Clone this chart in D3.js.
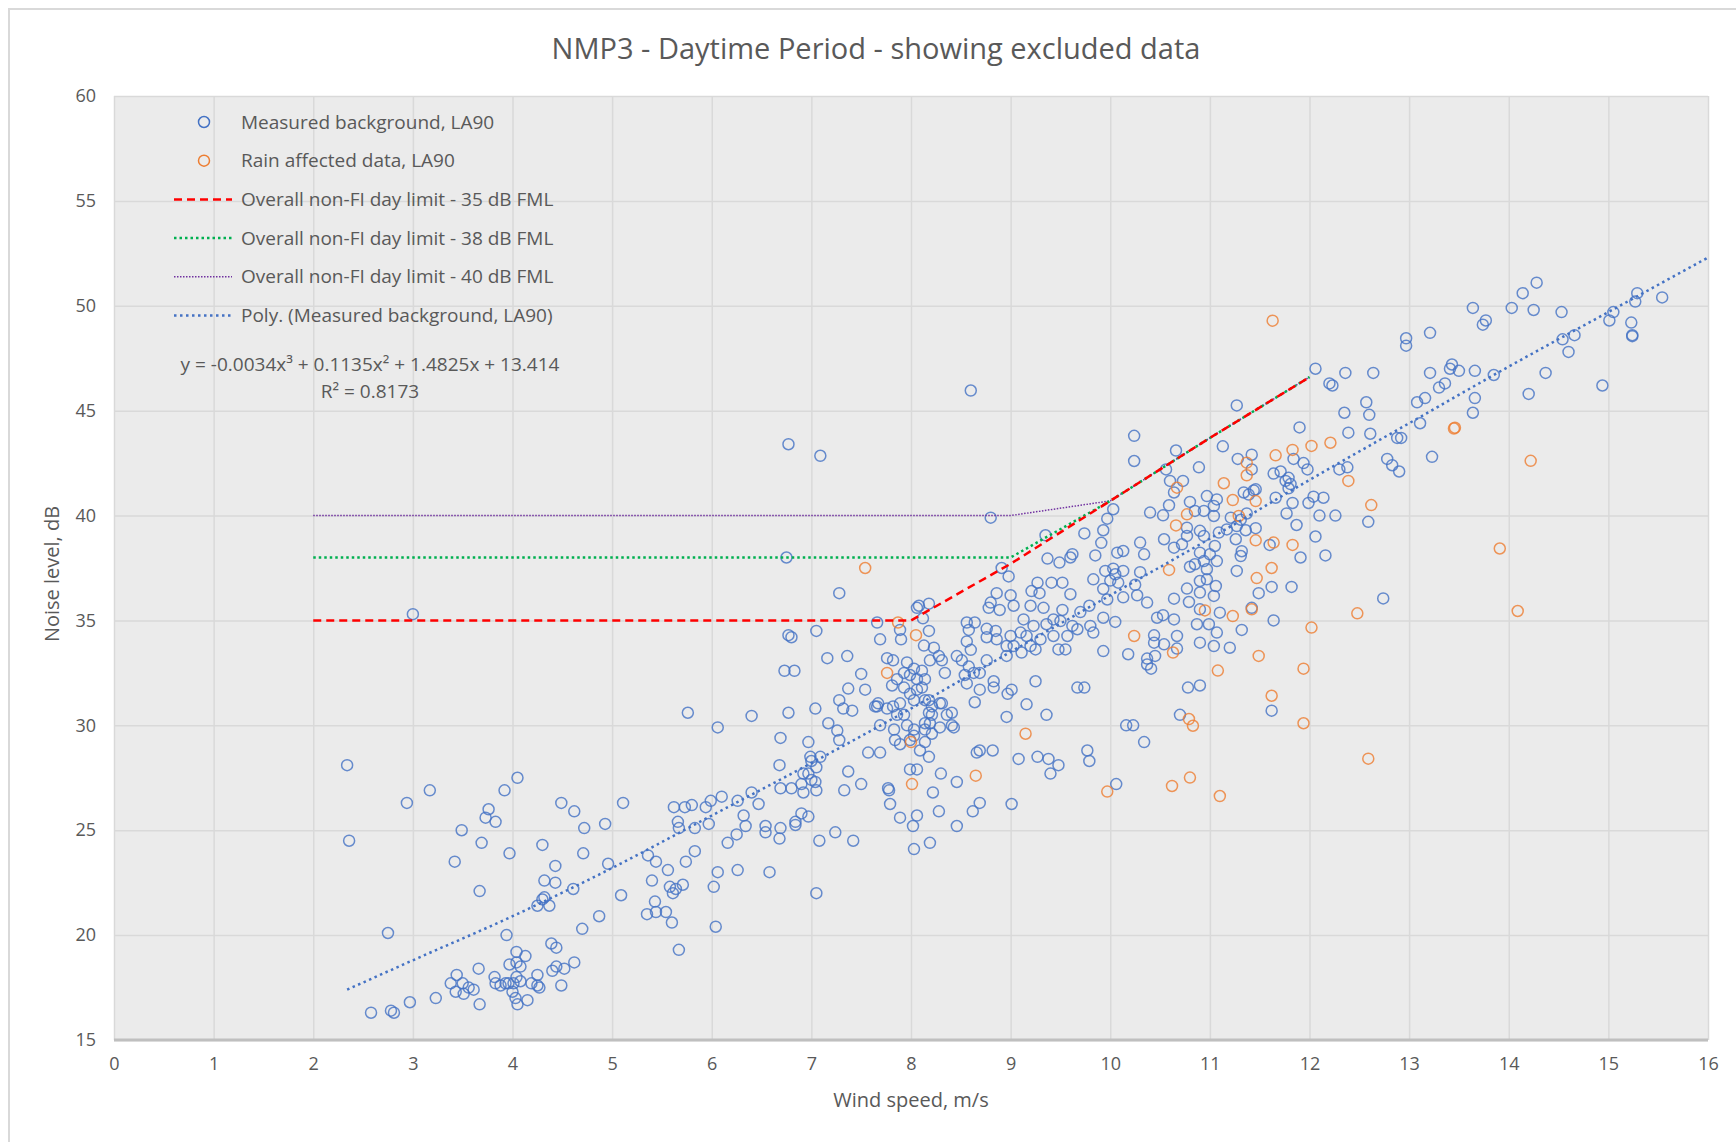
<!DOCTYPE html>
<html>
<head>
<meta charset="utf-8">
<script src="https://cdn.jsdelivr.net/npm/d3@7"></script>
<style>
  body { margin: 0; background: #fff; }
  svg text { font-family: "Open Sans", sans-serif; fill: #595959; }
</style>
</head>
<body>
<div id="chart"></div>
<script>
// measured background LA90, [wind speed m/s, dB]
const measured = [
  [3.0,35.3],[5.76,30.6],[6.06,29.9],[2.34,28.1],[4.05,27.5],[3.92,26.9],[3.17,26.9],[2.94,26.3],[3.76,26.0],[3.73,25.6],[3.83,25.4],[3.49,25.0],[2.36,24.5],[3.69,24.4],[3.97,23.9],[3.42,23.5],[3.67,22.1],
  [4.49,26.3],[4.62,25.9],[4.72,25.1],[4.93,25.3],[5.11,26.3],[4.30,24.3],[4.71,23.9],[4.43,23.3],[4.32,22.6],[4.43,22.5],[4.61,22.2],[4.96,23.4],[5.09,21.9],[4.87,20.9],[4.70,20.3],[4.32,21.8],[4.30,21.7],[4.25,21.4],[4.37,21.4],[3.94,20.0],[2.75,20.1],
  [5.36,23.8],[5.44,23.5],[5.40,22.6],[5.56,23.1],[5.58,22.3],[5.64,22.2],[5.71,22.4],[5.61,22.0],[5.43,21.6],[5.35,21.0],[5.44,21.1],[5.54,21.1],[5.60,20.6],[5.67,19.3],
  [5.62,26.1],[5.73,26.1],[5.80,26.2],[5.66,25.4],[5.67,25.1],[5.83,25.1],[5.97,25.3],[5.94,26.1],[5.99,26.4],[6.10,26.6],[5.83,24.0],[5.74,23.5],[6.06,23.0],[6.02,22.3],[6.04,20.4],[6.26,23.1],[6.16,24.4],[6.25,24.8],[6.26,26.4],
  [2.58,16.3],[2.78,16.4],[2.81,16.3],[2.97,16.8],[3.23,17.0],[3.44,18.1],[3.38,17.7],[3.50,17.7],[3.43,17.3],[3.51,17.2],[3.56,17.5],[3.61,17.4],[3.67,16.7],[3.66,18.4],
  [3.82,18.0],[3.83,17.7],[3.88,17.6],[3.93,17.7],[3.96,17.7],[4.01,17.7],[4.04,18.0],[4.08,17.8],[3.97,18.6],[4.04,18.7],[4.08,18.5],[4.04,19.2],[4.13,19.0],[4.0,17.3],[4.03,17.0],[4.05,16.7],[4.15,16.9],[4.19,17.7],[4.25,18.1],[4.25,17.6],[4.27,17.5],[4.39,19.6],[4.44,19.4],[4.40,18.3],[4.44,18.5],[4.52,18.4],[4.62,18.7],[4.49,17.6],
  [8.80,39.9],[6.77,43.4],[7.09,42.85],[8.6,45.96],
  [6.75,38.0],[7.28,36.3],[8.86,36.3],[8.80,35.85],[8.78,35.6],[8.89,35.5],[8.08,35.7],[8.18,35.8],[8.12,35.1],[8.06,35.6],[7.66,34.9],[7.89,34.55],[7.90,34.1],[8.18,34.5],[8.13,33.8],[7.69,34.1],[6.77,34.3],[6.80,34.2],[7.05,34.5],[7.16,33.2],[7.36,33.3],[6.73,32.6],[6.83,32.6],
  [7.76,33.2],[7.82,33.1],[7.96,33.0],[8.03,32.7],[7.99,32.4],[7.93,32.5],[8.11,32.6],[8.14,32.2],[8.06,32.2],[7.86,32.2],[7.81,31.9],
  [7.50,32.45],[7.54,31.7],[7.37,31.75],[8.23,33.7],[8.28,33.3],[8.19,33.1],[8.31,33.1],[8.34,32.5],
  [7.93,31.8],[7.99,31.5],[8.06,31.7],[8.11,31.8],[8.03,31.2],[8.14,31.2],[8.21,30.9],[8.31,31.05],[8.18,31.2],
  [8.46,33.3],[8.51,33.1],[8.58,32.8],[8.60,33.6],[8.56,34.0],[8.64,34.9],[8.56,34.9],[8.58,34.55],[8.76,34.6],[8.76,34.2],[8.85,34.5],[8.86,34.1],[8.76,33.1],[8.69,32.5],[8.63,32.5],[8.56,32.0],[8.54,32.4],[8.69,31.7],[8.83,32.1],[8.83,31.8],
  [8.64,31.1],[8.69,28.8],[8.66,28.7],[8.82,28.8],[8.46,27.3],[8.30,27.7],[8.22,26.8],[8.28,25.9],[8.46,25.2],[8.62,25.9],[8.69,26.3],
  [8.36,30.5],[8.41,30.0],[8.29,29.9],[8.43,29.9],[8.21,29.6],[8.14,29.2],[8.09,28.8],[8.18,28.5],[8.14,29.8],[8.03,29.8],[7.99,29.3],[7.96,30.0],[7.93,30.5],[7.86,30.5],[7.89,31.05],[7.82,30.9],[7.76,30.8],[7.67,31.05],[7.66,30.9],[7.69,30.0],[7.83,29.8],[7.84,29.3],[7.89,29.1],[8.03,29.5],
  [7.99,27.9],[8.06,27.9],[8.02,25.2],[8.06,25.7],[8.03,24.1],[8.19,24.4],
  [7.57,28.7],[7.69,28.7],[7.50,27.2],[7.33,26.9],[7.37,27.8],[7.28,29.3],[7.26,29.75],[7.17,30.1],[7.28,31.2],[7.32,30.8],[7.41,30.7],[7.64,30.9],[7.79,26.25],[7.77,27.0],[7.78,26.9],[7.89,25.6],
  [7.04,30.8],[6.97,29.2],[6.99,28.5],[7.0,28.3],[7.09,28.5],[7.05,28.0],[6.97,27.7],[6.92,27.7],[7.0,27.4],[7.04,27.3],[6.90,27.2],[7.05,26.9],[6.92,26.8],[6.69,29.4],[6.68,28.1],[6.69,27.0],[6.80,27.0],[6.40,30.45],[6.77,30.6],
  [6.47,26.25],[6.40,26.8],[6.32,25.7],[6.34,25.2],
  [6.54,25.2],[6.54,24.9],[6.69,25.1],[6.68,24.6],[6.84,25.4],[6.84,25.25],[6.90,25.8],[6.97,25.65],[7.08,24.5],[7.24,24.9],[7.42,24.5],[6.58,23.0],[7.05,22.0],
  [8.41,30.6],[8.29,31.05],[8.18,30.6],[8.21,30.5],[8.19,30.1],[8.14,30.1],
  [8.91,37.5],[8.98,37.1],[9.0,36.2],[9.03,35.7],
  [11.27,45.25],[10.24,43.8],[10.24,42.6],[10.66,43.1],[11.13,43.3],[11.28,42.7],[10.89,42.3],[10.56,42.2],[10.60,41.65],[10.73,41.65],[10.64,41.1],
  [10.03,40.3],[9.97,39.85],[9.93,39.3],[9.91,38.7],[9.74,39.15],[9.85,38.1],[9.35,39.06],[9.37,37.95],[9.49,37.76],[9.60,38.0],[9.62,38.16],
  [9.27,36.8],[9.21,36.4],[9.29,36.3],[9.41,36.8],[9.52,36.8],[9.60,36.25],[9.20,35.7],[9.33,35.6],[9.52,35.5],[9.70,35.4],[9.79,35.7],[9.83,36.96],[9.95,37.36],[10.03,37.47],[10.13,37.36],[10.05,37.2],[10.08,36.8],[10.0,36.9],[9.93,36.5],[9.97,36.0],[10.13,36.1],[10.27,36.2],[10.25,36.7],[10.30,37.3],[10.37,35.85],
  [9.80,34.74],[9.93,35.13],[10.05,34.93],[9.83,34.42],[9.67,34.58],[9.62,34.74],[9.50,34.97],[9.43,35.05],[9.36,34.82],[9.23,34.74],[9.13,35.05],[9.10,34.42],[9.0,34.26],[8.96,33.78],[9.03,33.78],[9.16,34.26],[9.20,33.78],[9.30,34.10],[9.43,34.26],[9.57,34.26],[9.48,33.62],[9.55,33.62],[9.25,33.62],[9.11,33.47],[8.96,33.31],
  [9.93,33.54],[10.18,33.39],[10.37,33.18],[10.44,34.29],
  [10.67,33.66],[10.54,33.86],[10.47,35.13],[10.64,35.05],[10.53,35.25],[10.64,36.04],[10.79,35.88],[10.77,36.52],[10.90,36.88],[10.97,36.96],[11.06,36.64],[11.04,36.17],[10.90,36.33],[10.97,37.44],[10.85,37.68],[10.80,37.56],[10.90,38.23],[11.05,38.55],[10.94,39.03],[11.09,39.19],[11.17,39.34],[11.27,39.50],[11.04,39.98],[10.90,39.27],[10.77,39.42],[10.64,38.47],[10.54,38.87],[10.40,40.14],[10.53,40.01],[10.59,40.49],[10.80,40.65],[10.85,40.22],[10.94,40.22],[11.04,40.46],[10.97,40.93],[11.07,40.77],[10.72,38.63],[10.77,39.03],[11.26,38.87],[11.21,39.90],[11.31,38.07],[11.27,37.36],[11.07,37.83],[10.94,37.83],[11.0,38.15],
  [10.30,38.71],[10.34,38.15],[10.13,38.31],[10.07,38.23],[10.44,33.94],[10.67,34.26],
  [10.90,35.53],[10.87,34.82],[10.99,34.82],[11.10,35.37],[11.07,34.42],[10.90,33.94],[11.04,33.78],[11.20,33.70],[10.45,33.31],
  [9.25,32.1],[9.01,31.7],[8.97,31.5],[9.16,31.0],[8.96,30.4],[9.36,30.5],[9.67,31.8],[9.74,31.8],[9.08,28.4],[9.27,28.5],[9.38,28.4],[9.48,28.1],[9.40,27.7],[9.77,28.8],[9.79,28.3],[9.01,26.25],[10.06,27.2],[10.37,32.9],[10.41,32.7],[10.16,30.0],[10.23,30.0],[10.34,29.2],[10.78,31.8],[10.90,31.9],[10.70,30.5],
  [12.06,47.0],[12.20,46.3],[12.23,46.2],[12.36,46.8],[12.64,46.8],[13.21,46.8],[13.30,46.1],[13.36,46.3],[13.41,47.0],[13.43,47.2],[13.50,46.9],[13.66,46.9],
  [11.90,44.2],[12.57,45.4],[12.60,44.8],[12.35,44.9],[12.39,43.95],[12.61,43.9],[13.08,45.4],[13.16,45.6],[13.11,44.4],[13.23,42.8],[12.88,43.7],[12.92,43.7],[12.78,42.7],[12.83,42.4],[12.90,42.1],[13.64,44.9],[13.66,45.6],
  [11.42,42.9],[11.42,42.2],[11.64,42.0],[11.71,42.1],[11.79,41.8],[11.76,41.65],[11.81,41.5],[11.84,42.7],[11.94,42.5],[11.98,42.2],[11.79,41.3],[11.34,41.1],[11.39,41.0],[11.44,41.2],[11.46,41.25],
  [11.66,40.85],[11.83,40.6],[11.77,40.1],[11.99,40.6],[12.04,40.9],[12.14,40.85],[12.10,40.0],[12.26,40.0],[12.30,42.2],[12.38,42.3],[11.87,39.55],[12.06,39.0],[11.91,38.0],[12.16,38.1],[11.37,40.1],[11.31,39.8],[11.46,39.4],[11.36,39.3],[11.32,38.3],[11.62,36.6],[11.49,36.3],[11.82,36.6],[11.42,35.6],[11.64,35.0],[11.32,34.55],[12.74,36.05],[12.59,39.7],[11.60,38.6],
  [11.62,30.7],
  [13.64,49.9],[13.77,49.3],[13.74,49.1],[14.03,49.9],[14.14,50.6],[14.28,51.1],[14.25,49.8],[14.53,49.7],[14.54,48.4],[14.66,48.6],[14.60,47.8],[14.37,46.8],[14.20,45.8],[14.94,46.2],[15.01,49.3],[15.05,49.7],[15.23,49.2],[15.24,48.6],[15.24,48.55],[15.27,50.2],[15.29,50.6],[15.54,50.4],[13.85,46.7],
  [12.97,48.45],[12.97,48.1],[13.21,48.71]
];

// rain affected LA90
const rain = [
  [7.54,37.5],[7.87,34.9],[8.05,34.3],[7.76,32.5],[8.65,27.6],[8.0,29.2],[8.01,27.2],
  [11.14,41.54],[11.23,40.74],[11.29,39.98],[10.67,41.33],[10.77,40.06],[10.66,39.53],[10.59,37.41],[10.24,34.26],[10.95,35.48],[11.23,35.21],[10.63,33.47],
  [9.15,29.6],[9.97,26.84],[10.79,30.3],[10.83,29.98],[11.08,32.61],[10.62,27.11],[10.80,27.51],[11.10,26.63],
  [13.46,44.19],[13.45,44.15],[12.21,43.47],[12.02,43.32],[11.83,43.13],[11.66,42.87],[11.37,42.52],[11.37,41.92],[12.39,41.65],[12.62,40.50],[11.46,40.69],[11.46,38.82],[11.64,38.71],[11.83,38.60],[11.62,37.50],[11.47,37.02],[11.42,35.53],[12.02,34.66],[12.48,35.34],[11.49,33.31],
  [11.94,32.70],[11.62,31.41],[11.94,30.10],[12.59,28.41],
  [14.22,42.61],[13.91,38.43],[14.09,35.45],
  [11.63,49.29]
];

// limit curves
const limit35 = [[2,35],[3,35],[4,35],[5,35],[6,35],[7,35],[8,35],[9,37.7],[10,40.7],[11,43.7],[12,46.6]];
const limit38 = [[2,38],[3,38],[4,38],[5,38],[6,38],[7,38],[8,38],[9,38],[10,40.7],[11,43.7],[12,46.6]];
const limit40 = [[2,40],[3,40],[4,40],[5,40],[6,40],[7,40],[8,40],[9,40],[10,40.7],[11,43.7],[12,46.6]];

// poly trend
const trend = [[2.34,17.4],[3,18.8],[4,20.9],[5,23.2],[6,25.7],[7,28.2],[8,30.8],[9,33.5],[10,36.2],[11,38.9],[12,41.7],[13,44.4],[14,47.1],[15,49.7],[16,52.3]];

const xTicks = d3.range(0, 17, 1);
const yTicks = d3.range(15, 61, 5);

const legendItems = [
  {label: "Measured background, LA90", type: "circle", color: "#4472C4"},
  {label: "Rain affected data, LA90", type: "circle", color: "#ED7D31"},
  {label: "Overall non-FI day limit - 35 dB FML", type: "line", color: "#FF0000", width: 2.5, dash: "8,5"},
  {label: "Overall non-FI day limit - 38 dB FML", type: "line", color: "#00B050", width: 2.5, dash: "2.5,3"},
  {label: "Overall non-FI day limit - 40 dB FML", type: "line", color: "#7030A0", width: 1.5, dash: "1.5,1.5"},
  {label: "Poly. (Measured background, LA90)", type: "line", color: "#4472C4", width: 2.5, dash: "2.5,3.5"}
];

const W = 1736, H = 1142;
const plot = {left: 114, right: 1708, top: 96, bottom: 1040};

const svg = d3.select("#chart").append("svg")
  .attr("width", W).attr("height", H);

// outer chart border
svg.append("rect")
  .attr("x", 9).attr("y", 9).attr("width", W + 20).attr("height", H + 20)
  .attr("fill", "#fff").attr("stroke", "#d9d9d9").attr("stroke-width", 2);

const x = d3.scaleLinear().domain([0, 16]).range([plot.left, plot.right]);
const y = d3.scaleLinear().domain([15, 60]).range([plot.bottom, plot.top]);

svg.append("rect")
  .attr("x", plot.left).attr("y", plot.top)
  .attr("width", plot.right - plot.left).attr("height", plot.bottom - plot.top)
  .attr("fill", "#ebebeb");

// grid + tick labels
const yAxis = svg.append("g")
  .attr("transform", `translate(${plot.left},0)`)
  .call(d3.axisLeft(y).tickValues(yTicks).tickSize(-(plot.right - plot.left)).tickPadding(18));
const xAxis = svg.append("g")
  .attr("transform", `translate(0,${plot.bottom})`)
  .call(d3.axisBottom(x).tickValues(xTicks).tickSize(-(plot.bottom - plot.top)).tickPadding(17));

[xAxis, yAxis].forEach(g => {
  g.select(".domain").remove();
  g.selectAll(".tick line").attr("stroke", "#d9d9d9").attr("stroke-width", 1.5);
  g.selectAll(".tick text").attr("font-size", 18).attr("fill", "#595959")
    .style("font-family", "'Open Sans', sans-serif");
});

svg.append("line")
  .attr("x1", plot.left).attr("x2", plot.right)
  .attr("y1", plot.bottom).attr("y2", plot.bottom)
  .attr("stroke", "#bfbfbf").attr("stroke-width", 3);

// points
function drawPoints(data, color) {
  svg.append("g").selectAll("circle")
    .data(data).join("circle")
    .attr("cx", d => x(d[0]))
    .attr("cy", d => y(d[1]))
    .attr("r", 5.5)
    .attr("fill", "none")
    .attr("stroke", color)
    .attr("stroke-opacity", 0.8)
    .attr("stroke-width", 1.5);
}
drawPoints(measured, "#4472C4");
drawPoints(rain, "#ED7D31");

const line = d3.line().x(d => x(d[0])).y(d => y(d[1]));
const smooth = d3.line().x(d => x(d[0])).y(d => y(d[1])).curve(d3.curveMonotoneX);

function drawLine(data, gen, color, width, dash) {
  svg.append("path")
    .attr("d", gen(data))
    .attr("fill", "none")
    .attr("stroke", color)
    .attr("stroke-width", width)
    .attr("stroke-dasharray", dash);
}
drawLine(limit40, line, "#7030A0", 1.5, "1.5,1.5");
drawLine(limit38, line, "#00B050", 2.5, "2.5,3");
drawLine(limit35, line, "#FF0000", 2.5, "8,5");
drawLine(trend, smooth, "#4472C4", 2.5, "2.5,3.5");

// legend
const legend = svg.append("g");
legendItems.forEach((it, i) => {
  const ly = 122 + i * 38.7;
  if (it.type === "circle") {
    legend.append("circle").attr("cx", 204).attr("cy", ly).attr("r", 5.5)
      .attr("fill", "none").attr("stroke", it.color).attr("stroke-width", 1.5);
  } else {
    legend.append("line").attr("x1", 174).attr("x2", 232).attr("y1", ly).attr("y2", ly)
      .attr("stroke", it.color).attr("stroke-width", it.width).attr("stroke-dasharray", it.dash);
  }
  legend.append("text").attr("x", 241).attr("y", ly).attr("dy", "0.35em")
    .attr("font-size", 19).text(it.label);
});

// trendline equation
svg.append("text").attr("x", 370).attr("y", 364).attr("dy", "0.35em")
  .attr("text-anchor", "middle").attr("font-size", 19)
  .text("y = -0.0034x³ + 0.1135x² + 1.4825x + 13.414");
svg.append("text").attr("x", 370).attr("y", 391).attr("dy", "0.35em")
  .attr("text-anchor", "middle").attr("font-size", 19)
  .text("R² = 0.8173");

// titles
svg.append("text").attr("x", 876).attr("y", 49).attr("dy", "0.35em")
  .attr("text-anchor", "middle").attr("font-size", 29)
  .text("NMP3 - Daytime Period - showing excluded data");
svg.append("text").attr("x", (plot.left + plot.right) / 2).attr("y", 1100).attr("dy", "0.35em")
  .attr("text-anchor", "middle").attr("font-size", 20)
  .text("Wind speed, m/s");
svg.append("text").attr("transform", `translate(52,${(plot.top + plot.bottom) / 2 + 6}) rotate(-90)`)
  .attr("dy", "0.35em").attr("text-anchor", "middle").attr("font-size", 20)
  .text("Noise level, dB");
</script>
</body>
</html>
